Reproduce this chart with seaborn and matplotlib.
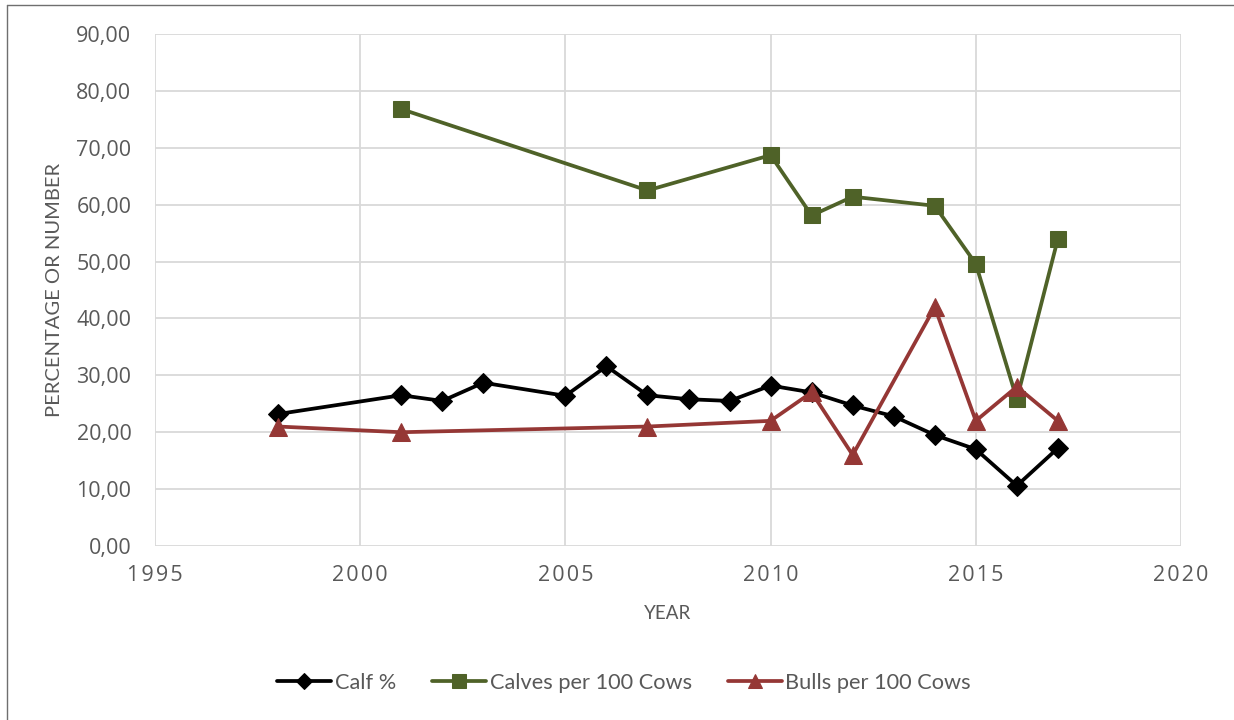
import numpy as np
import pandas as pd
import matplotlib
matplotlib.use('Agg')
import matplotlib.pyplot as plt
import seaborn as sns
from matplotlib.lines import Line2D
from matplotlib.ticker import FuncFormatter

# data
calf_years = [1998, 2001, 2002, 2003, 2005, 2006, 2007, 2008, 2009, 2010,
              2011, 2012, 2013, 2014, 2015, 2016, 2017]
calf_pct = [23.2, 26.5, 25.5, 28.7, 26.4, 31.6, 26.5, 25.8, 25.5, 28.2,
            27.0, 24.7, 22.8, 19.5, 17.0, 10.6, 17.2]

calves_years = [2001, 2007, 2010, 2011, 2012, 2014, 2015, 2016, 2017]
calves_per_100 = [76.8, 62.5, 68.7, 58.1, 61.4, 59.8, 49.6, 25.8, 54.0]

bulls_years = [1998, 2001, 2007, 2010, 2011, 2012, 2014, 2015, 2016, 2017]
bulls_per_100 = [21.0, 20.0, 21.0, 22.0, 27.0, 16.0, 42.0, 22.0, 28.0, 22.0]

x_ticks = [1995, 2000, 2005, 2010, 2015, 2020]
y_ticks = list(range(0, 91, 10))

sns.set_theme(style='white')
plt.rcParams['font.family'] = ['Lato', 'DejaVu Sans']

fig = plt.figure(figsize=(12.34, 7.2), dpi=100)
ax = fig.add_axes([155 / 1234, 1 - 546 / 720, (1181 - 155) / 1234, (546 - 34) / 720])

series = [
    (calf_years, calf_pct, 'Calf %', 'black', 'D', 10.5),
    (calves_years, calves_per_100, 'Calves per 100 Cows', '#4f6228', 's', 12),
    (bulls_years, bulls_per_100, 'Bulls per 100 Cows', '#953735', '^', 12.5),
]
for xs, ys, name, col, mk, ms in series:
    df = pd.DataFrame({'year': xs, 'value': ys})
    sns.lineplot(data=df, x='year', y='value', ax=ax, color=col, marker=mk,
                 markersize=ms, markeredgecolor=col, linewidth=2.7, label=name)

ax.set_xlim(1995, 2020)
ax.set_ylim(0, 90)
ax.set_xticks(x_ticks)
ax.set_yticks(y_ticks)
ax.yaxis.set_major_formatter(FuncFormatter(lambda v, p: f'{v:.2f}'.replace('.', ',')))
# excel shows the year labels letter-spaced
ax.xaxis.set_major_formatter(FuncFormatter(lambda v, p: '\u200a'.join(str(int(v)))))
ax.grid(True, color='#d9d9d9', linewidth=1.3)
for s in ax.spines.values():
    s.set_visible(False)
ax.tick_params(axis='both', length=0, colors='#595959')
ax.tick_params(axis='x', pad=14)
ax.tick_params(axis='y', pad=17)
for lab in ax.get_xticklabels() + ax.get_yticklabels():
    lab.set_family(['Open Sans', 'DejaVu Sans'])
    lab.set_fontsize(15.5)

ax.set_xlabel('YEAR', fontsize=13.5, color='#595959')
ax.xaxis.set_label_coords(0.5, -0.115)
ax.set_ylabel('PERCENTAGE OR NUMBER', fontsize=14.5, color='#595959')
ax.yaxis.set_label_coords(-0.0897, 0.5)

leg = ax.legend(loc='center', bbox_to_anchor=(0.457, -0.267), ncol=3, frameon=False,
                fontsize=15.7, handlelength=2.5, columnspacing=1.65, handletextpad=0.15,
                markerscale=0.8)
for t in leg.get_texts():
    t.set_color('#595959')

# outer chart frame (top and left edges visible in the reference)
fig.add_artist(Line2D([7 / 1234, 7 / 1234], [0, 1 - 5 / 720], transform=fig.transFigure,
                      color='#6f6f6f', linewidth=1))
fig.add_artist(Line2D([7 / 1234, 1], [1 - 5 / 720, 1 - 5 / 720], transform=fig.transFigure,
                      color='#6f6f6f', linewidth=1))

fig.savefig('out.png', dpi=100)
